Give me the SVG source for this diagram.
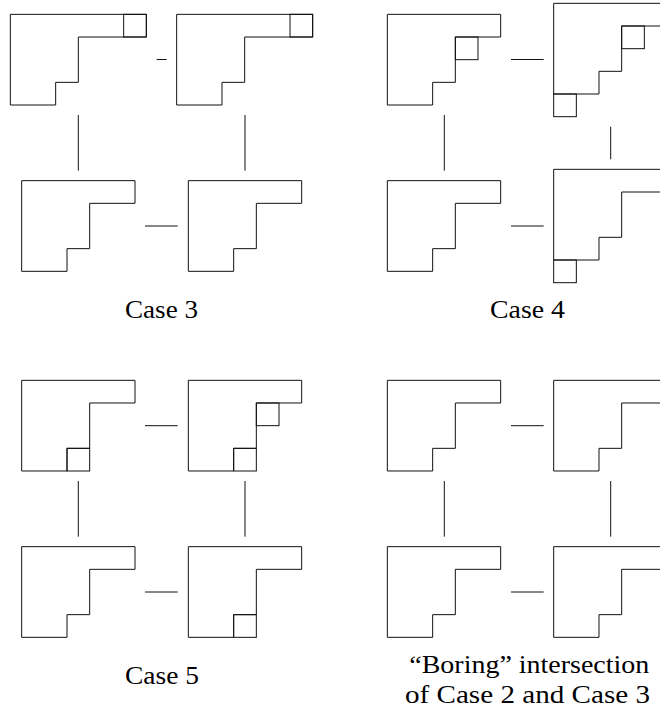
<svg xmlns="http://www.w3.org/2000/svg" xmlns:xlink="http://www.w3.org/1999/xlink" width="660" height="710" viewBox="0 0 660 710">
<style>
.s{fill:none;stroke:#111;stroke-width:1}
</style>
<defs>
<path id="yd" class="s" d="M0,0 H113.33 V22.67 H68 V68 H45.33 V90.67 H0 Z"/>
<path id="yd6" class="s" d="M0,0 H136 V22.67 H68 V68 H45.33 V90.67 H0 Z"/>
<rect id="box" class="s" width="22.67" height="22.67"/>
</defs>
<rect width="660" height="710" fill="#fff"/>
<g id="connectors" class="s">
<line x1="156.7" y1="59.5" x2="166.7" y2="59.5"/>
<line x1="145" y1="226" x2="177.7" y2="226"/>
<line x1="78.3" y1="115" x2="78.3" y2="170.7"/>
<line x1="245" y1="115" x2="245" y2="170.7"/>
<line x1="511" y1="59.5" x2="543.7" y2="59.5"/>
<line x1="511" y1="226" x2="543.7" y2="226"/>
<line x1="444.3" y1="115" x2="444.3" y2="170.7"/>
<line x1="610.7" y1="126.7" x2="610.7" y2="159.3"/>
<line x1="145" y1="425.7" x2="177.7" y2="425.7"/>
<line x1="145" y1="592" x2="177.7" y2="592"/>
<line x1="78.3" y1="481" x2="78.3" y2="536.7"/>
<line x1="245" y1="481" x2="245" y2="536.7"/>
<line x1="511" y1="425.7" x2="543.7" y2="425.7"/>
<line x1="511" y1="592" x2="543.7" y2="592"/>
<line x1="444.3" y1="481" x2="444.3" y2="536.7"/>
<line x1="610.7" y1="481" x2="610.7" y2="536.7"/>
</g>
<g id="c3a" transform="translate(10.33,14.33)"><use href="#yd6"/><use href="#box" x="113.33" y="0"/></g>
<g id="c3b" transform="translate(176.67,14.33)"><use href="#yd6"/><use href="#box" x="113.33" y="0"/></g>
<g id="c3c" transform="translate(21.67,180.67)"><use href="#yd"/></g>
<g id="c3d" transform="translate(188.33,180.67)"><use href="#yd"/></g>
<g id="c4a" transform="translate(387.33,14.33)"><use href="#yd"/><use href="#box" x="68" y="22.67"/></g>
<g id="c4b" transform="translate(553.67,3.33)"><use href="#yd6"/><use href="#box" x="68" y="22.67"/><use href="#box" x="0" y="90.67"/></g>
<g id="c4c" transform="translate(387.33,180.67)"><use href="#yd"/></g>
<g id="c4d" transform="translate(553.67,169.33)"><use href="#yd6"/><use href="#box" x="0" y="90.67"/></g>
<g id="c5a" transform="translate(21.67,380.33)"><use href="#yd"/><use href="#box" x="45.33" y="68"/></g>
<g id="c5b" transform="translate(188.33,380.33)"><use href="#yd"/><use href="#box" x="68" y="22.67"/><use href="#box" x="45.33" y="68"/></g>
<g id="c5c" transform="translate(21.67,546.67)"><use href="#yd"/></g>
<g id="c5d" transform="translate(188.33,546.67)"><use href="#yd"/><use href="#box" x="45.33" y="68"/></g>
<g id="ba" transform="translate(387.33,380.33)"><use href="#yd"/></g>
<g id="bb" transform="translate(553.67,380.33)"><use href="#yd"/></g>
<g id="bc" transform="translate(387.33,546.67)"><use href="#yd"/></g>
<g id="bd" transform="translate(553.67,546.67)"><use href="#yd"/></g>
<g id="labels" font-family="Liberation Serif, serif" font-size="25.5" fill="#000">
<text x="125" y="317.5" font-family="Liberation Serif" textLength="73" lengthAdjust="spacingAndGlyphs">Case 3</text>
<text x="490" y="317.5" font-family="Liberation Serif" textLength="75" lengthAdjust="spacingAndGlyphs">Case 4</text>
<text x="125" y="683.5" font-family="Liberation Serif" textLength="74" lengthAdjust="spacingAndGlyphs">Case 5</text>
<text x="409.3" y="672.5" font-family="Liberation Serif" textLength="240" lengthAdjust="spacingAndGlyphs">“Boring” intersection</text>
<text x="405" y="703" font-family="Liberation Serif" textLength="245" lengthAdjust="spacingAndGlyphs">of Case 2 and Case 3</text>
</g>
</svg>
